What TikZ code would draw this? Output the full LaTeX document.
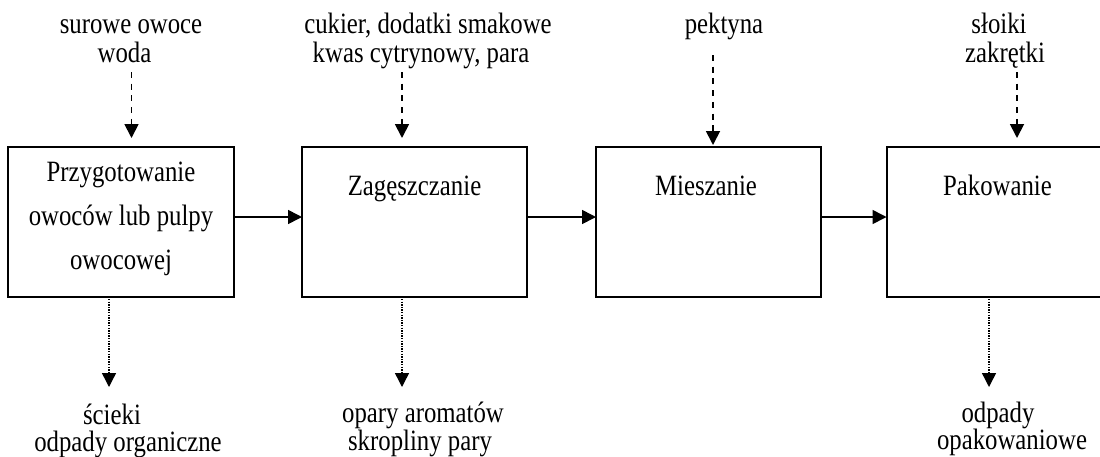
\documentclass[tikz,border=0pt]{standalone}
\usepackage{fontspec}
\setmainfont[FakeStretch=0.84]{Liberation Serif}
\usetikzlibrary{arrows.meta}

\begin{document}
\begin{tikzpicture}[x=1pt, y=-1pt,
    every node/.style={inner sep=0pt, outer sep=0pt, font=\fontsize{29.5}{30}\selectfont},
    txt/.style={anchor=base},
    stage/.style={draw, line width=2pt, minimum width=225pt, minimum height=150pt},
    tip/.style={-{Triangle[width=14pt,length=14pt]}},
    flow/.style={tip, line width=1.6pt},
    feed/.style={tip, line width=1.8pt, dash pattern=on 6pt off 5.7pt},
    waste/.style={tip, line width=1.4pt, dash pattern=on 1.4pt off 1.2pt}]
  \useasboundingbox (0,0) rectangle (1100,456);
  \fill[white] (0,0) rectangle (1100,456);

  % process stages
  \node[stage, minimum width=226pt] (b1) at (121,222) {};
  \node[stage] (b2) at (414.5,222) {};
  \node[stage] (b3) at (708.5,222) {};
  \node[stage] (b4) at (999,222) {};

  % stage titles
  \node[txt] (t1a) at (121,181) {Przygotowanie};
  \node[txt] (t1b) at (121,225) {owoców lub pulpy};
  \node[txt] (t1c) at (121,269) {owocowej};
  \node[txt] (t2) at (414.5,195) {Zagęszczanie};
  \node[txt] (t3) at (706,195) {Mieszanie};
  \node[txt] (t4) at (997.5,195) {Pakowanie};

  % main flow between stages
  \draw[flow] ([yshift=5pt]b1.east) -- ([yshift=5pt]b2.west);
  \draw[flow] ([yshift=5pt]b2.east) -- ([yshift=5pt]b3.west);
  \draw[flow] ([yshift=5pt]b3.east) -- ([yshift=5pt]b4.west);

  % inputs
  \node[txt] (i1a) at (131,33) {surowe owoce};
  \node[txt] (i1b) at (124.5,62) {woda};
  \node[txt] (i2a) at (428,33) {cukier, dodatki smakowe};
  \node[txt] (i2b) at (421,62) {kwas cytrynowy, para};
  \node[txt] (i3) at (724,33) {pektyna};
  \node[txt] (i4a) at (999,33) {słoiki};
  \node[txt] (i4b) at (1005,62) {zakrętki};

  \coordinate (f1) at (131.5,72);
  \coordinate (f2) at (402,72);
  \coordinate (f3) at (713,55);
  \coordinate (f4) at (1017,72);
  \draw[feed, shorten >=9pt] (f1) -- (f1 |- b1.north);
  \draw[feed, shorten >=9pt] (f2) -- (f2 |- b2.north);
  \draw[feed, shorten >=2pt] (f3) -- (f3 |- b3.north);
  \draw[feed, shorten >=9pt] (f4) -- (f4 |- b4.north);

  % outputs
  \coordinate (w1) at (109,387);
  \coordinate (w2) at (402,387);
  \coordinate (w4) at (989,387);
  \draw[waste, shorten <=2pt] (w1 |- b1.south) -- (w1);
  \draw[waste, shorten <=2pt] (w2 |- b2.south) -- (w2);
  \draw[waste, shorten <=2pt] (w4 |- b4.south) -- (w4);

  \node[txt] (o1a) at (112,424) {ścieki};
  \node[txt] (o1b) at (128,451) {odpady organiczne};
  \node[txt] (o2a) at (423,422) {opary aromatów};
  \node[txt] (o2b) at (420,450) {skropliny pary};
  \node[txt] (o4a) at (998,422) {odpady};
  \node[txt] (o4b) at (1012,449) {opakowaniowe};
\end{tikzpicture}
\end{document}
